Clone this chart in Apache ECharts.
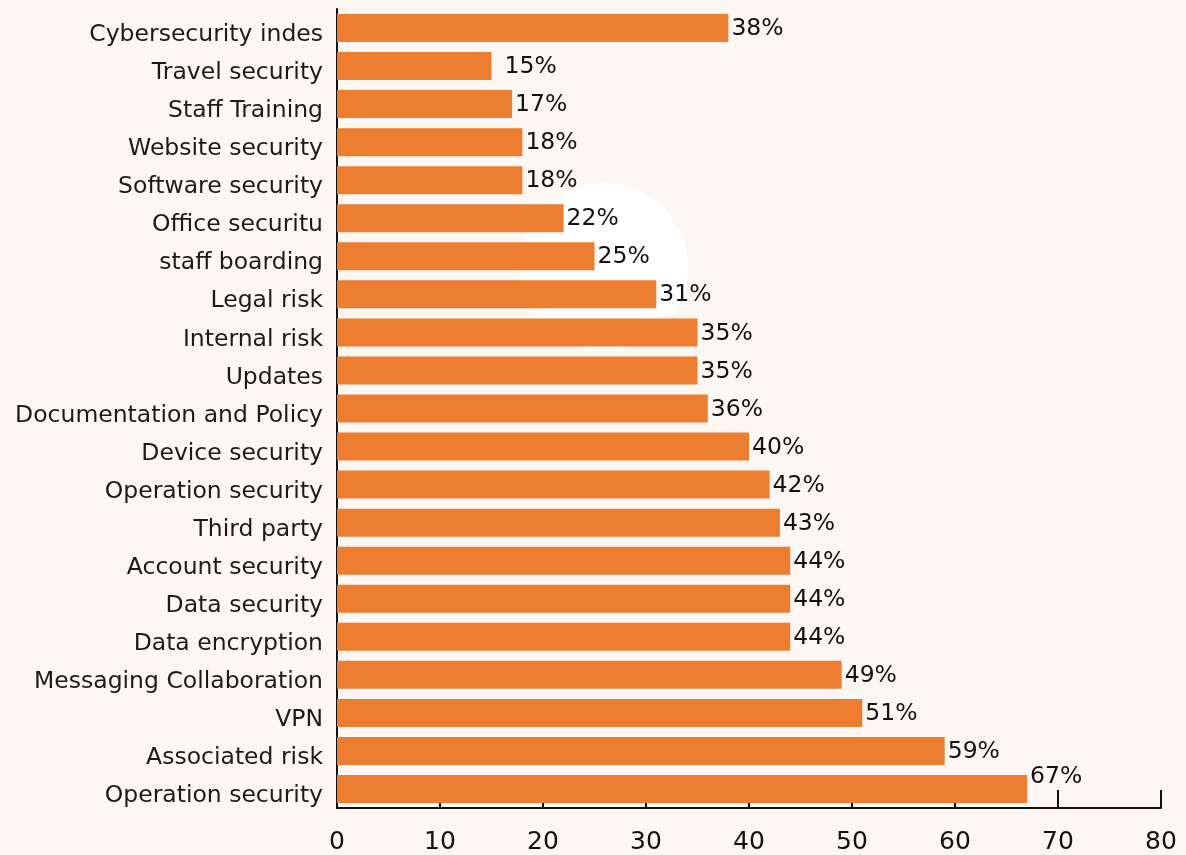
<!DOCTYPE html>
<html>
<head>
<meta charset="utf-8">
<script src="https://cdn.jsdelivr.net/npm/echarts@6/dist/echarts.min.js"></script>
<style>
  html, body { margin: 0; padding: 0; background: #fcf7f3; }
  #main { width: 1186px; height: 855px; }
</style>
</head>
<body>
<div id="main"></div>
<script>
"use strict";
// categories top -> bottom
var categories = [
  'Cybersecurity indes', 'Travel security', 'Staff Training', 'Website security',
  'Software security', 'Office securitu', 'staff boarding', 'Legal risk',
  'Internal risk', 'Updates', 'Documentation and Policy', 'Device security',
  'Operation security', 'Third party', 'Account security', 'Data security',
  'Data encryption', 'Messaging Collaboration', 'VPN', 'Associated risk',
  'Operation security'
];
var values = [38, 15, 17, 18, 18, 22, 25, 31, 35, 35, 36, 40, 42, 43, 44, 44, 44, 49, 51, 59, 67];
var xTicks = [0, 80, 10]; // min, max, interval

var FONT = 'DejaVu Sans';
var chart = echarts.init(document.getElementById('main'));

var seriesData = values.map(function (v, i) {
  var item = { value: v };
  // a couple of labels are nudged in the original
  if (i === values.length - 1) {
    item.label = { offset: [0, -12] };
  } else if (i === 1) {
    item.label = { offset: [10, 1] };
  }
  return item;
});

chart.setOption({
  backgroundColor: '#fcf7f3',
  animation: false,
  graphic: [{
    type: 'circle',
    z: -10,
    shape: { cx: 604, cy: 267, r: 84 },
    style: { fill: '#ffffff' }
  }],
  grid: { left: 337, right: 25, top: 9, bottom: 47, containLabel: false },
  xAxis: {
    type: 'value',
    min: xTicks[0],
    max: xTicks[1],
    interval: xTicks[2],
    axisLine: { show: true, lineStyle: { color: '#111', width: 2 } },
    axisTick: { show: true, inside: true, length: 18, lineStyle: { color: '#111', width: 2 } },
    axisLabel: { color: '#111', fontFamily: FONT, fontSize: 25, margin: 22 },
    splitLine: { show: false }
  },
  yAxis: {
    type: 'category',
    inverse: true,
    data: categories,
    axisLine: { show: true, lineStyle: { color: '#111', width: 2 } },
    axisTick: { show: false },
    axisLabel: {
      margin: 14,
      formatter: '{a|{value}}',
      rich: {
        a: {
          color: '#1a1a1a', fontFamily: FONT, fontSize: 23.5,
          padding: [14, 0, 0, 0]
        }
      }
    }
  },
  series: [{
    type: 'bar',
    data: seriesData,
    barWidth: 28,
    itemStyle: { color: '#ed7d31' },
    label: {
      show: true,
      position: 'right',
      distance: 3,
      offset: [0, 1],
      formatter: '{c}%',
      color: '#111',
      fontFamily: FONT,
      fontSize: 23.5
    }
  }]
});
</script>
</body>
</html>
